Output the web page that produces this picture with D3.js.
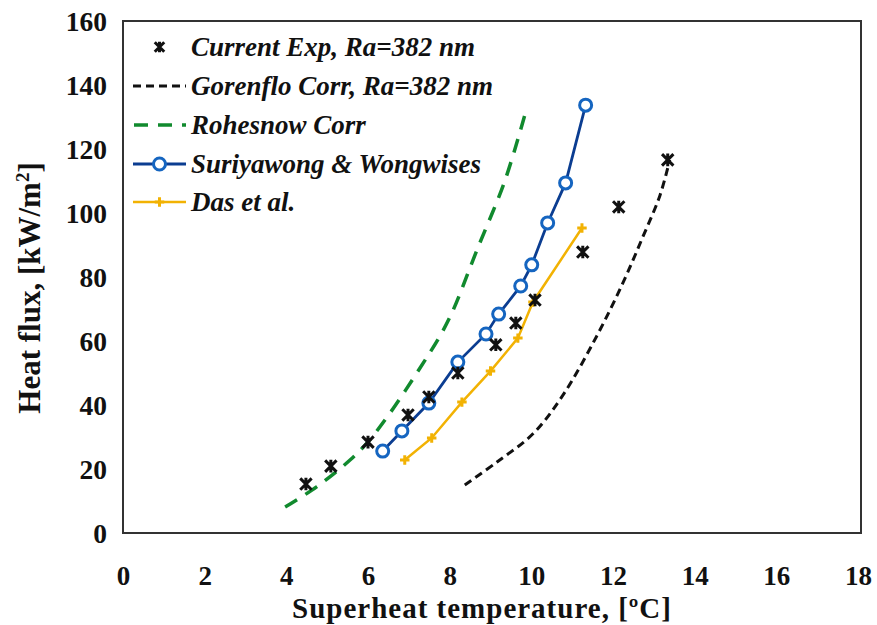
<!DOCTYPE html>
<html><head><meta charset="utf-8">
<script src="https://cdn.jsdelivr.net/npm/d3@7"></script>
<style>
body{margin:0;background:#fff;}
text{font-family:"Liberation Serif","Times New Roman",serif;font-weight:bold;fill:#111;}
</style></head>
<body><svg id="c" width="877" height="625"></svg>
<script>
// ---- data ----
const xTicks = [0,2,4,6,8,10,12,14,16,18];
const yTicks = [0,20,40,60,80,100,120,140,160];
const expX = [4.48,5.09,6.0,6.98,7.49,8.2,9.13,9.62,10.09,11.26,12.14,13.34];
const expY = [15.3,20.9,28.4,36.9,42.5,50.0,58.8,65.6,72.8,87.8,101.9,116.6];
const gorX = [8.37,9.16,10.04,10.77,11.6,12.24,12.73,13.15,13.39];
const gorY = [15.0,22.2,31.0,43.0,61.5,78.1,92.5,105.5,116.6];
const rohX = [3.97,4.75,5.56,6.0,6.54,7.27,7.76,8.08,8.67,9.35,9.84];
const rohY = [8.1,14.5,22.8,28.5,37.5,51.5,61.5,69.5,88.5,110.0,130.6];
const surX = [6.36,6.83,7.49,8.2,8.89,9.2,9.74,10.01,10.4,10.84,11.33];
const surY = [25.6,31.9,40.6,53.4,62.2,68.4,77.2,83.8,96.9,109.4,133.7];
const dasX = [6.9,7.56,8.3,9.0,9.67,10.04,11.24];
const dasY = [22.8,29.7,40.9,50.6,60.9,72.2,95.3];
const legendLabels = ["Current Exp, Ra=382 nm","Gorenflo Corr, Ra=382 nm","Rohesnow Corr","Suriyawong & Wongwises","Das et al."];
const xTitle = "Superheat temperature, [ºC]";

// ---- layout ----
const L=123, R=858, T=21, B=533;
const svg=d3.select("#c");
const x=d3.scaleLinear().domain([0,18]).range([L,R]);
const y=d3.scaleLinear().domain([0,160]).range([B,T]);
const zip=(a,b)=>a.map((v,i)=>[v,b[i]]);

const cBlue="#0b3d91", cBlueM="#1565c0", cOr="#f2b203", cGr="#118a2e";

// frame
svg.append("rect").attr("x",L).attr("y",T).attr("width",861-L).attr("height",B-T)
  .attr("fill","none").attr("stroke","#333").attr("stroke-width",2);

// axes (labels only)
const xa=d3.axisBottom(x).tickValues(xTicks).tickSize(0).tickPadding(0);
const gx=svg.append("g").attr("transform",`translate(0,${B})`).call(xa);
gx.select(".domain").remove();
gx.selectAll("text").attr("dy",null).attr("y",52).style("font-size","27px").style("font-family","Liberation Serif").style("font-weight","bold");
const ya=d3.axisLeft(y).tickValues(yTicks).tickSize(0).tickPadding(0);
const gy=svg.append("g").attr("transform",`translate(${L},0)`).call(ya);
gy.select(".domain").remove();
gy.selectAll("text").attr("x",-16).attr("dy","0.35em").style("font-size","27.5px").style("font-family","Liberation Serif").style("font-weight","bold");

svg.append("text").attr("x",482).attr("y",618).attr("text-anchor","middle").style("font-size","29px").style("letter-spacing","1px").text(xTitle);
const yt=svg.append("text").attr("transform",`translate(40,288) rotate(-90)`).attr("text-anchor","middle").style("font-size","31px");
yt.append("tspan").text("Heat flux, [kW/m");
yt.append("tspan").attr("dy","-11").style("font-size","19px").text("2");
yt.append("tspan").attr("dy","11").text("]");

const line=d3.line().x(d=>x(d[0])).y(d=>y(d[1]));
const smooth=d3.line().x(d=>x(d[0])).y(d=>y(d[1])).curve(d3.curveCatmullRom.alpha(0.5));

// correlations
svg.append("path").datum(zip(rohX,rohY)).attr("d",smooth).attr("fill","none").attr("stroke",cGr).attr("stroke-width",3.5).attr("stroke-dasharray","14,10");
svg.append("path").datum(zip(gorX,gorY)).attr("d",smooth).attr("fill","none").attr("stroke","#111").attr("stroke-width",3).attr("stroke-dasharray","8,5");

// marker shapes
const star={draw(ctx,size){const r=Math.sqrt(size)/2;ctx.moveTo(-r,-r);ctx.lineTo(r,r);ctx.moveTo(-r,r);ctx.lineTo(r,-r);ctx.moveTo(0,-r*1.1);ctx.lineTo(0,r*1.1);}};
const plus={draw(ctx,size){const r=Math.sqrt(size)/2;ctx.moveTo(-r,0);ctx.lineTo(r,0);ctx.moveTo(0,-r);ctx.lineTo(0,r);}};

// Das
svg.append("path").datum(zip(dasX,dasY)).attr("d",line).attr("fill","none").attr("stroke",cOr).attr("stroke-width",2.5);
svg.selectAll(".das").data(zip(dasX,dasY)).join("path").attr("transform",d=>`translate(${x(d[0])},${y(d[1])})`)
  .attr("d",d3.symbol().type(plus).size(90)).attr("stroke",cOr).attr("stroke-width",3).attr("fill","none");

// Suriyawong
svg.append("path").datum(zip(surX,surY)).attr("d",line).attr("fill","none").attr("stroke",cBlue).attr("stroke-width",2.8);
svg.selectAll(".sur").data(zip(surX,surY)).join("circle").attr("cx",d=>x(d[0])).attr("cy",d=>y(d[1])).attr("r",6)
  .attr("fill","#fff").attr("stroke",cBlueM).attr("stroke-width",3);

// Exp
svg.selectAll(".exp").data(zip(expX,expY)).join("path").attr("transform",d=>`translate(${x(d[0])},${y(d[1])})`)
  .attr("d",d3.symbol().type(star).size(130)).attr("stroke","#111").attr("stroke-width",3).attr("fill","none");

// legend
const lg=svg.append("g");
const ly=[47,86,125,164,202];
const lx0=133, lx1=186;
legendLabels.forEach((t,i)=>{
  lg.append("text").attr("x",191).attr("y",ly[i]).attr("dy","0.35em").style("font-size","27px").style("font-style","italic").text(t);
});
lg.append("path").attr("transform",`translate(${(lx0+lx1)/2},${ly[0]})`).attr("d",d3.symbol().type(star).size(90)).attr("stroke","#111").attr("stroke-width",3).attr("fill","none");
lg.append("line").attr("x1",lx0).attr("x2",lx1).attr("y1",ly[1]).attr("y2",ly[1]).attr("stroke","#111").attr("stroke-width",3).attr("stroke-dasharray","8,5");
lg.append("line").attr("x1",lx0).attr("x2",lx1).attr("y1",ly[2]).attr("y2",ly[2]).attr("stroke",cGr).attr("stroke-width",3.5).attr("stroke-dasharray","14,10").attr("stroke-dashoffset",-1);
lg.append("line").attr("x1",lx0).attr("x2",lx1).attr("y1",ly[3]).attr("y2",ly[3]).attr("stroke",cBlue).attr("stroke-width",2.8);
lg.append("circle").attr("cx",(lx0+lx1)/2).attr("cy",ly[3]).attr("r",6).attr("fill","#fff").attr("stroke",cBlueM).attr("stroke-width",3);
lg.append("line").attr("x1",lx0).attr("x2",lx1).attr("y1",ly[4]).attr("y2",ly[4]).attr("stroke",cOr).attr("stroke-width",2.5);
lg.append("path").attr("transform",`translate(${(lx0+lx1)/2},${ly[4]})`).attr("d",d3.symbol().type(plus).size(90)).attr("stroke",cOr).attr("stroke-width",3).attr("fill","none");
</script></body></html>
